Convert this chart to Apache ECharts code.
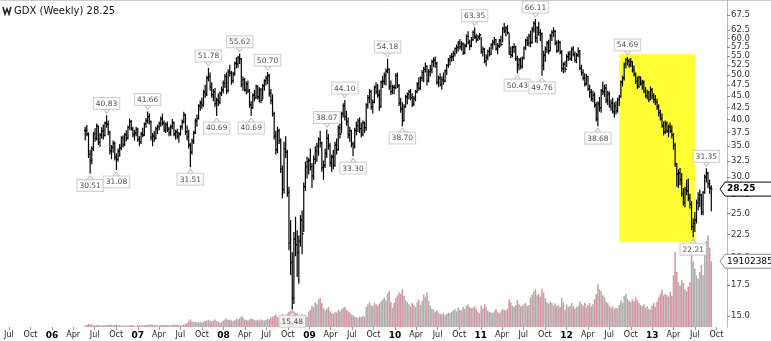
<!DOCTYPE html>
<html><head><meta charset="utf-8">
<script src="https://cdn.jsdelivr.net/npm/echarts@6/dist/echarts.min.js"></script>
<style>html,body{margin:0;padding:0;background:#fff}#c{width:771px;height:341px}</style>
</head><body><div id="c"></div>
<script>
// ---- data: weekly [high, low, close] per year, week starting Monday 2006-05-22 ----
const firstWeekMonday = '2006-05-22';
const hlc2006 = [[38.6,36.0,37.9],[38.9,36.8,37.2],[37.5,33.0,33.6],[34.4,30.51,32.6],[35.0,32.0,34.6],[37.6,34.2,37.2],[38.3,35.8,36.4],[39.2,36.0,38.7],[38.8,35.2,35.7],[37.4,34.9,37.0],[38.5,36.4,37.8],[39.0,36.2,36.9],[39.6,36.8,39.3],[40.83,38.4,39.1],[39.8,37.0,37.5],[37.8,33.6,34.2],[35.2,32.8,34.8],[36.0,33.9,35.5],[35.8,32.6,33.1],[33.8,31.08,32.8],[34.6,32.4,34.1],[35.4,33.2,34.7],[36.8,34.3,36.5],[37.0,34.8,35.3],[37.4,35.0,37.1],[37.9,35.9,36.4],[38.8,36.2,38.5],[40.2,38.0,39.6],[39.9,37.8,38.2],[38.6,36.6,37.1],[38.0,36.0,37.4],[38.6,36.8,38.1]];
const hlc2007 = [[38.4,35.8,36.2],[36.8,35.0,35.8],[37.6,35.4,37.2],[38.4,36.6,37.0],[39.4,36.9,39.1],[40.3,38.4,39.8],[41.66,39.2,40.6],[41.2,39.0,39.6],[39.8,36.0,36.6],[37.4,35.0,36.8],[37.8,35.8,36.4],[38.6,36.2,38.2],[39.0,37.2,38.6],[39.6,37.9,39.2],[40.6,38.6,40.1],[41.2,38.8,39.3],[39.8,37.6,38.0],[39.4,37.4,39.0],[39.6,37.6,38.1],[38.6,36.8,37.4],[39.0,36.9,38.6],[40.1,38.1,39.4],[39.6,36.8,37.2],[38.0,36.2,37.6],[38.2,36.3,36.8],[37.6,35.6,37.2],[38.9,36.9,38.6],[40.0,38.0,39.6],[41.6,39.2,40.9],[41.2,37.0,37.6],[38.8,36.0,36.7],[38.0,34.6,35.2],[35.6,31.51,34.0],[36.4,33.6,35.9],[37.8,35.4,37.4],[40.2,37.2,39.8],[41.0,38.6,40.2],[43.2,40.0,42.8],[44.0,41.8,43.4],[44.6,42.2,43.0],[46.4,42.6,45.9],[47.6,44.6,45.4],[49.8,45.0,49.2],[51.78,48.4,49.6],[50.6,46.2,47.1],[48.2,44.6,45.3],[46.6,43.8,46.0],[46.8,42.6,43.3],[44.6,40.69,44.0],[45.6,42.8,43.6],[46.0,43.2,45.6],[47.2,45.0,46.4]];
const hlc2008 = [[48.6,45.6,47.9],[50.2,46.8,49.6],[50.6,45.4,46.2],[51.4,45.8,50.8],[52.6,49.6,50.4],[51.0,47.6,48.6],[50.8,48.0,50.2],[53.4,49.8,53.0],[54.6,51.6,52.8],[55.0,51.8,54.4],[55.62,52.8,54.2],[54.4,47.0,47.6],[49.6,46.2,48.8],[49.2,46.0,46.4],[48.4,45.4,47.8],[48.6,45.6,46.2],[46.6,42.4,43.0],[43.8,40.69,42.4],[45.6,42.2,45.2],[46.4,43.8,44.6],[47.6,44.4,47.2],[47.4,44.2,44.8],[47.0,43.6,46.4],[46.8,43.4,44.0],[47.8,44.2,47.4],[48.9,46.2,48.6],[49.8,47.4,49.2],[50.70,47.8,49.8],[50.2,44.8,45.6],[46.6,43.2,44.0],[45.4,40.6,41.2],[41.6,36.2,36.8],[37.8,33.6,34.4],[38.6,33.8,37.8],[38.2,35.4,36.0],[36.4,30.6,31.2],[31.8,27.0,28.2],[35.8,27.6,34.6],[36.8,33.0,34.0],[34.4,27.2,27.8],[28.6,20.8,21.6],[24.2,18.4,19.6],[20.6,15.48,16.4],[22.8,15.9,22.0],[24.6,20.2,21.4],[23.0,18.2,20.6],[22.4,17.6,21.8],[24.8,21.2,24.2],[25.4,20.4,22.6],[29.2,22.8,28.6],[32.4,28.0,31.6],[33.2,29.8,32.4]];
const hlc2009 = [[33.0,30.4,32.6],[34.6,31.0,31.6],[32.2,28.4,30.2],[33.4,29.6,32.8],[35.0,32.0,34.2],[35.6,32.4,35.0],[36.6,33.4,36.2],[37.8,34.8,35.6],[35.8,30.8,31.4],[32.6,29.6,31.8],[34.6,31.4,33.8],[38.07,33.0,36.4],[37.2,34.4,35.1],[35.6,31.6,32.2],[33.6,30.8,33.2],[34.4,31.2,31.8],[35.8,31.6,35.2],[36.4,33.6,34.4],[38.8,34.2,38.4],[39.2,36.4,37.2],[41.6,37.4,41.2],[43.4,40.4,42.8],[44.10,39.8,40.6],[41.8,38.8,39.6],[40.4,36.4,37.0],[38.6,35.8,37.8],[38.0,34.8,35.4],[35.8,33.30,35.0],[38.4,34.6,37.9],[39.6,37.0,38.8],[40.2,37.6,39.8],[40.4,37.4,38.2],[39.4,36.6,37.2],[39.8,36.8,39.4],[39.6,37.4,38.4],[43.4,37.8,43.0],[45.2,42.2,44.6],[46.6,43.4,46.0],[46.4,42.0,42.6],[44.2,41.2,43.6],[47.4,43.4,47.0],[48.2,45.4,46.0],[47.8,44.6,45.2],[46.4,41.8,42.6],[48.6,42.4,48.2],[49.8,46.8,48.4],[50.6,47.6,49.8],[51.6,47.4,51.0],[54.18,50.4,51.4],[51.6,46.4,47.2],[48.6,45.2,46.0],[47.6,45.4,47.0]];
const hlc2010 = [[47.6,45.4,46.9],[50.4,46.6,49.8],[50.6,46.8,47.4],[47.8,42.8,43.4],[44.6,41.4,42.2],[43.6,38.70,39.8],[43.2,39.6,42.6],[45.2,42.4,44.8],[45.8,43.2,45.4],[46.4,44.2,46.0],[46.6,44.0,44.6],[45.6,42.6,43.2],[45.0,42.8,44.4],[46.4,43.8,46.0],[48.2,45.6,47.8],[49.4,46.2,46.8],[49.6,46.4,49.2],[51.2,48.4,50.6],[52.0,48.2,51.4],[53.2,50.6,52.2],[52.4,47.4,48.6],[51.4,48.2,50.8],[52.6,49.6,51.2],[54.0,50.4,53.4],[54.6,52.0,53.8],[54.8,51.8,53.0],[53.4,47.6,48.2],[49.8,47.0,49.2],[50.4,47.2,47.6],[49.6,46.4,48.8],[50.6,47.6,48.4],[51.4,48.2,51.0],[52.8,50.0,52.4],[54.4,51.8,53.8],[55.2,52.4,54.6],[55.8,53.4,54.8],[56.4,53.6,55.6],[57.4,54.8,57.0],[58.2,55.6,57.4],[59.2,56.2,58.6],[59.8,56.8,57.6],[59.2,56.4,58.4],[58.8,55.2,55.8],[58.4,55.4,57.8],[61.2,57.4,60.6],[62.2,58.2,58.8],[59.6,56.6,57.8],[60.4,57.4,59.6],[62.4,59.2,61.8],[63.35,59.8,60.4],[61.4,58.8,59.6],[61.0,59.2,60.4],[61.6,59.6,61.1]];
const hlc2011 = [[60.4,55.6,56.2],[57.6,54.8,56.8],[57.2,53.0,53.6],[55.4,52.2,54.6],[56.8,53.8,56.2],[57.4,54.8,55.4],[58.6,55.2,58.2],[59.6,56.8,58.8],[60.4,58.0,59.6],[59.8,56.4,57.0],[58.6,55.4,57.8],[59.8,57.2,59.4],[60.8,57.6,58.2],[63.6,58.8,63.0],[64.8,61.6,62.2],[63.8,60.6,63.2],[64.2,61.2,61.8],[61.6,55.2,56.0],[57.6,54.4,55.2],[57.8,54.6,57.4],[58.6,55.8,57.6],[57.8,53.6,54.2],[55.0,50.43,52.6],[54.4,51.2,53.8],[54.6,51.4,52.2],[54.8,51.6,54.4],[57.6,54.0,57.2],[59.8,56.6,59.4],[60.6,57.8,58.6],[61.4,57.6,60.6],[62.4,57.4,58.8],[63.6,58.4,62.8],[65.4,61.8,64.6],[66.11,58.8,60.2],[63.8,58.6,63.2],[65.2,60.8,61.8],[62.8,59.2,61.4],[61.8,49.76,52.4],[56.4,51.2,55.2],[57.6,53.4,56.8],[59.2,55.8,58.6],[59.6,55.4,56.4],[61.4,56.2,60.8],[62.6,59.2,61.8],[63.4,60.4,62.2],[62.6,58.0,58.6],[59.4,55.8,56.4],[59.6,56.2,58.8],[59.2,55.4,56.0],[56.6,50.8,51.6],[53.2,50.4,52.8],[53.6,50.6,51.4]];
const hlc2012 = [[55.4,52.0,54.8],[56.2,53.6,55.4],[56.4,53.8,54.2],[57.4,53.6,56.8],[57.8,54.8,55.4],[56.2,53.2,53.8],[55.8,53.0,55.2],[57.4,54.6,56.4],[56.6,51.2,51.8],[52.6,49.8,50.6],[51.4,48.6,49.2],[50.4,47.2,47.8],[50.2,47.4,49.6],[49.8,46.2,46.6],[47.6,44.6,45.8],[46.6,43.8,44.4],[46.2,43.6,45.2],[45.8,42.4,43.0],[43.6,39.6,40.2],[43.8,38.68,43.2],[44.8,41.6,42.4],[46.6,41.4,46.2],[48.4,45.2,46.0],[47.6,44.8,46.8],[47.8,43.4,44.0],[46.2,43.0,45.4],[46.0,42.4,42.8],[44.2,41.8,43.4],[44.6,41.2,41.6],[43.6,40.4,42.8],[43.8,41.0,41.8],[44.6,41.4,44.2],[45.2,42.8,44.8],[48.6,44.6,48.2],[49.8,47.2,49.2],[53.2,48.6,52.8],[54.4,51.6,54.0],[54.69,52.4,53.6],[54.2,51.8,52.6],[54.4,52.0,53.4],[53.6,50.6,51.2],[52.4,49.6,50.2],[50.6,47.8,48.4],[49.6,46.6,47.2],[49.8,46.8,49.4],[49.6,47.4,47.8],[48.8,46.4,48.2],[48.6,45.6,46.2],[47.0,44.6,45.0],[46.4,44.2,45.8],[46.2,43.6,44.2],[47.2,44.0,46.4]];
const hlc2013 = [[46.8,44.2,45.0],[45.6,43.4,44.2],[45.2,43.0,43.6],[44.4,42.0,42.6],[43.2,40.6,41.4],[42.0,39.8,40.2],[41.2,38.4,38.8],[39.6,37.0,37.6],[39.8,37.2,39.2],[39.6,37.4,37.8],[39.0,36.6,38.6],[39.4,37.4,37.8],[38.8,36.4,37.0],[37.4,34.4,35.2],[35.6,31.6,32.0],[32.2,28.6,30.4],[31.2,28.4,30.6],[31.4,28.8,29.6],[30.6,27.2,27.6],[28.4,26.0,26.4],[28.6,25.8,28.2],[29.6,27.4,28.0],[29.8,26.6,27.0],[27.6,25.6,26.2],[26.6,23.0,23.4],[24.4,22.21,23.8],[25.2,22.8,24.2],[26.8,23.8,26.4],[27.8,25.4,26.8],[28.2,25.8,27.4],[27.6,24.8,25.2],[28.0,24.8,27.8],[30.4,27.6,30.0],[31.35,29.2,30.6],[30.8,28.4,29.0],[29.6,27.6,28.4],[28.8,25.3,28.25]];
// weekly volume, millions of shares
const vol2006 = [5,6,9,8,7,6,5,6,6,5,4,5,5,6,5,7,6,5,6,7,5,5,4,4,5,4,4,5,5,5,4,3];
const vol2007 = [5,6,5,5,6,6,7,6,8,7,6,5,5,5,6,6,6,5,6,5,5,6,7,6,6,6,5,6,7,9,11,16,22,17,14,15,14,13,15,13,16,18,19,21,18,16,18,22,17,15,12,14];
const vol2008 = [19,22,25,20,22,19,17,20,24,22,25,31,28,22,20,19,22,25,24,20,19,21,19,22,20,19,21,24,22,28,30,33,36,29,26,32,38,34,31,38,44,47,49,45,41,39,35,33,37,31,35,29];
const vol2009 = [45,50,62,58,72,66,80,84,70,55,48,52,58,46,40,38,44,42,50,46,52,56,58,50,46,42,36,34,30,28,26,30,28,32,30,58,66,72,64,60,70,66,62,68,74,80,86,78,98,104,72,56];
const vol2010 = [70,84,92,100,96,110,90,78,72,66,60,70,64,58,72,80,64,76,94,88,100,76,62,54,50,44,48,42,38,36,40,34,38,42,40,44,48,52,46,56,50,48,58,52,62,66,58,54,56,60,52,44,40];
const vol2011 = [62,54,66,58,48,44,42,40,46,52,44,40,46,52,50,48,54,80,72,62,58,64,78,66,60,62,66,70,60,64,86,94,104,110,92,96,88,112,100,84,72,68,74,70,62,68,60,64,58,84,72,50];
const vol2012 = [66,58,62,70,60,54,58,62,74,66,62,70,58,64,70,60,66,80,96,124,110,104,92,86,74,70,62,56,60,52,56,54,64,78,70,90,96,82,76,72,80,74,86,78,70,64,60,66,56,60,52,50];
const vol2013 = [62,70,58,74,86,96,110,92,96,92,88,102,90,150,217,160,130,120,136,128,110,104,118,130,217,190,170,150,140,160,180,150,210,250,266,230,191.023853];
// axis ticks
const priceTicks = [15,17.5,20,22.5,25,27.5,30,32.5,35,37.5,40,42.5,45,47.5,50,52.5,55,57.5,60,62.5,65,67.5];
const quarterTicks = ['2005-07-01','2005-10-01','2006-01-01','2006-04-01','2006-07-01','2006-10-01','2007-01-01','2007-04-01','2007-07-01','2007-10-01','2008-01-01','2008-04-01','2008-07-01','2008-10-01','2009-01-01','2009-04-01','2009-07-01','2009-10-01','2010-01-01','2010-04-01','2010-07-01','2010-10-01','2011-01-01','2011-04-01','2011-07-01','2011-10-01','2012-01-01','2012-04-01','2012-07-01','2012-10-01','2013-01-01','2013-04-01','2013-07-01','2013-10-01'];
const monthAbbr = ['', '', '', 'Apr', '', '', 'Jul', '', '', 'Oct', '', ''];
// annotations (week Monday, value, side)
const annotWeeks = ['2006-06-12','2006-08-21','2006-10-02','2007-02-12','2007-08-13','2007-10-29','2007-12-03','2008-03-10','2008-04-28','2008-07-07','2008-10-20','2009-03-16','2009-06-01','2009-07-06','2009-11-30','2010-02-01','2010-12-06','2011-06-06','2011-08-22','2011-09-19','2012-05-14','2012-09-17','2013-06-24','2013-08-19'];
const annotValues = [30.51,40.83,31.08,41.66,31.51,51.78,40.69,55.62,40.69,50.70,15.48,38.07,44.10,33.30,54.18,38.70,63.35,50.43,66.11,49.76,38.68,54.69,22.21,31.35];
const annotSide = ['low','high','low','high','low','high','low','high','low','high','low','high','high','low','high','low','high','low','high','low','low','high','low','high'];
// highlight box
const boxCorners = [['2012-08-13', 55.5], ['2013-07-02', 21.7]];

// ---- build ----
const DAY = 86400000;
function ts(s){ const p = s.split('-').map(Number); return Date.UTC(p[0], p[1]-1, p[2]); }
const hlc = [].concat(hlc2006, hlc2007, hlc2008, hlc2009, hlc2010, hlc2011, hlc2012, hlc2013);
const vols = [].concat(vol2006, vol2007, vol2008, vol2009, vol2010, vol2011, vol2012, vol2013);
const t0 = ts(firstWeekMonday);
const n = Math.min(hlc.length, vols.length);
const ohlcData = [], volData = [];
for (let i = 0; i < n; i++) {
  const t = t0 + i * 7 * DAY;
  const [h, l, c] = hlc[i];
  const o = i > 0 ? hlc[i-1][2] : c;
  ohlcData.push([t, o, h, l, c]);
  const up = i === 0 || c >= hlc[i-1][2];
  volData.push({ value: [t, vols[i]], itemStyle: { color: up ? '#adadad' : '#d493a0' } });
}
const lastClose = hlc[n-1][2];
const lastVol = vols[n-1];

const annotData = annotWeeks.map((w, i) => {
  const hi = annotSide[i] === 'high';
  return {
    value: [ts(w), annotValues[i]],
    symbolRotate: hi ? 180 : 0,
    symbolOffset: [0, hi ? -4 : 4],
    label: { position: hi ? 'top' : 'bottom', distance: 0 }
  };
});

const FONT = 'DejaVu Sans';
const chart = echarts.init(document.getElementById('c'), null, { renderer: 'canvas' });
chart.setOption({
  animation: false,
  backgroundColor: '#fff',
  grid: { left: 0, right: 44, top: 0, bottom: 14, containLabel: false },
  xAxis: {
    type: 'value',
    min: ts('2005-05-24'), max: ts('2013-11-15'),
    axisLine: { show: false },
    axisTick: { show: true, length: 3, lineStyle: { color: '#999' }, customValues: quarterTicks.map(ts) },
    splitLine: { show: false },
    axisLabel: {
      customValues: quarterTicks.map(ts), hideOverlap: false,
      margin: 4, fontSize: 8, fontFamily: FONT, color: '#222',
      formatter: function (v) {
        const d = new Date(v); const m = d.getUTCMonth();
        if (m === 0) return '{yr|' + String(d.getUTCFullYear()).slice(2) + '}';
        return monthAbbr[m];
      },
      rich: { yr: { fontWeight: 'bold', fontSize: 9, fontFamily: FONT, color: '#000' } }
    }
  },
  yAxis: [{
    type: 'log', logBase: 10, position: 'right',
    min: 14.18, max: 72.7,
    axisLine: { show: true, lineStyle: { color: '#aaa', type: 'dotted' } },
    axisTick: { show: true, length: 3, inside: false, lineStyle: { color: '#888' }, customValues: priceTicks },
    splitLine: { show: false },
    axisLabel: { customValues: priceTicks, showMaxLabel: true, showMinLabel: true, hideOverlap: false,
      margin: 4, fontSize: 8.5, fontFamily: FONT, color: '#333',
      formatter: v => Number(v).toFixed(1) }
  }, {
    type: 'value', min: 0, max: 950, show: false, splitLine: { show: false }
  }],
  series: [{
    type: 'line', yAxisIndex: 0, z: 1, silent: true, symbol: 'none',
    data: [[ohlcData[0][0], ohlcData[0][4]]], lineStyle: { opacity: 0 },
    markArea: { silent: true, itemStyle: { color: '#ffff33', opacity: 1 },
      data: [[{ coord: [ts(boxCorners[0][0]), boxCorners[0][1]] }, { coord: [ts(boxCorners[1][0]), boxCorners[1][1]] }]] }
  }, {
    type: 'bar', yAxisIndex: 1, z: 2, data: volData, barWidth: 1.5, silent: true
  }, {
    type: 'custom', yAxisIndex: 0, z: 3, silent: true, data: ohlcData,
    renderItem: function (params, api) {
      const t = api.value(0);
      const pO = api.coord([t, api.value(1)]), pH = api.coord([t, api.value(2)]);
      const pL = api.coord([t, api.value(3)]), pC = api.coord([t, api.value(4)]);
      const x = pH[0];
      const st = { stroke: '#000', lineWidth: 1.2 };
      return { type: 'group', children: [
        { type: 'line', shape: { x1: x, y1: pH[1], x2: x, y2: pL[1] }, style: st },
        { type: 'line', shape: { x1: x - 1.2, y1: pO[1], x2: x, y2: pO[1] }, style: st },
        { type: 'line', shape: { x1: x, y1: pC[1], x2: x + 1.2, y2: pC[1] }, style: st }
      ] };
    }
  }, {
    type: 'scatter', yAxisIndex: 0, z: 4, silent: true, data: annotData,
    symbol: 'triangle', symbolSize: [6, 4],
    itemStyle: { color: '#fff', borderColor: '#b8b8b8', borderWidth: 1 },
    label: { show: true, formatter: p => p.value[1].toFixed(2), fontSize: 7.5, fontFamily: FONT, color: '#222',
      backgroundColor: '#fff', borderColor: '#c4c4c4', borderWidth: 1, padding: [2, 2, 1, 2] }
  }]
});

const yPrice = chart.convertToPixel({ yAxisIndex: 0 }, lastClose);
const yVol = chart.convertToPixel({ yAxisIndex: 1 }, lastVol);
function tag(y, text, bold, border, size) {
  return { type: 'group', children: [
    { type: 'polygon', shape: { points: [[720, y], [725, y - 7], [772, y - 7], [772, y + 7], [725, y + 7]] },
      style: { fill: '#fff', stroke: border, lineWidth: 1 }, z: 10 },
    { type: 'text', x: 727, y: y, style: { text: text, fontSize: size, fontWeight: bold ? 'bold' : 'normal',
      fontFamily: FONT, fill: '#000', verticalAlign: 'middle' }, z: 11 }
  ] };
}
chart.setOption({ graphic: [
  { type: 'line', shape: { x1: 0, y1: 0.5, x2: 771, y2: 0.5 }, style: { stroke: '#ccc', lineWidth: 1 } },
  { type: 'polyline', shape: { points: [[3, 7], [5, 14], [7, 9], [9, 14], [11, 7]] }, style: { stroke: '#222', lineWidth: 1.6, fill: null } },
  { type: 'text', x: 14, y: 11, style: { text: 'GDX (Weekly) ' + lastClose.toFixed(2), fontSize: 10, fontFamily: FONT, fill: '#111', verticalAlign: 'middle' } },
  tag(yPrice, lastClose.toFixed(2), true, '#000', 9),
  tag(yVol, String(Math.round(lastVol * 1e6)), false, '#888', 9)
] });
</script></body></html>
